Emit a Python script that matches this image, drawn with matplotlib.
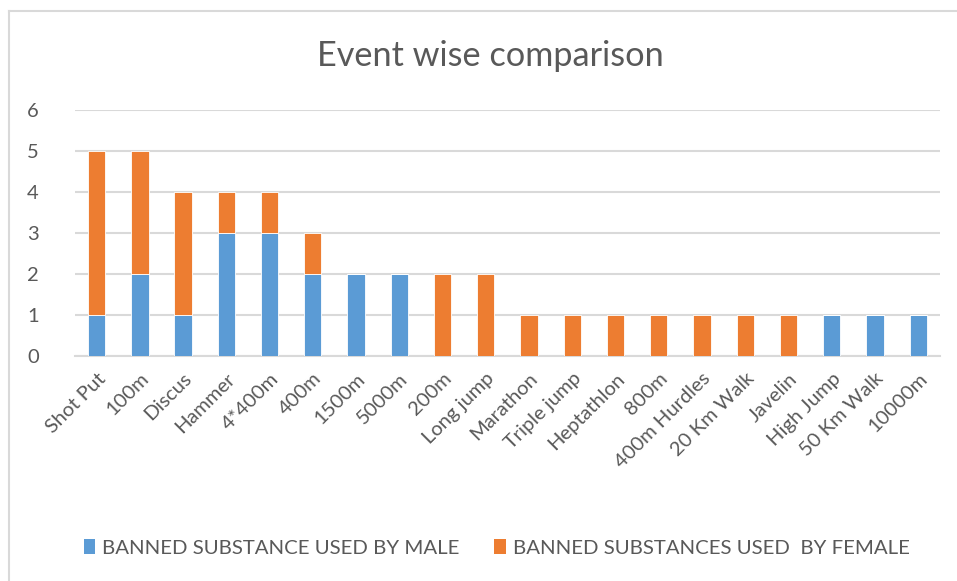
import matplotlib
matplotlib.use("Agg")
import matplotlib.pyplot as plt
from matplotlib.lines import Line2D
from matplotlib.patches import Patch
import numpy as np

events = ["Shot Put", "100m", "Discus", "Hammer", "4*400m", "400m", "1500m", "5000m",
          "200m", "Long jump", "Marathon", "Triple jump", "Heptathlon", "800m",
          "400m Hurdles", "20 Km Walk", "Javelin", "High Jump", "50 Km Walk", "10000m"]
male = [1, 2, 1, 3, 3, 2, 2, 2, 0, 0, 0, 0, 0, 0, 0, 0, 0, 1, 1, 1]
female = [4, 3, 3, 1, 1, 1, 0, 0, 2, 2, 1, 1, 1, 1, 1, 1, 1, 0, 0, 0]
series_names = ["BANNED SUBSTANCE USED BY MALE", "BANNED SUBSTANCES USED  BY FEMALE"]
yticks = [0, 1, 2, 3, 4, 5, 6]

BLUE = "#5B9BD5"
ORANGE = "#ED7D31"
GRID = "#D9D9D9"
TEXT = "#595959"
FONT = ["Lato", "DejaVu Sans"]

plt.rcParams["font.family"] = FONT

fig = plt.figure(figsize=(9.57, 5.81), dpi=100)
ax = fig.add_axes([0.0784, 0.3873, 0.9036, 0.4234])

x = np.arange(len(events))
w = 0.4
ax.bar(x, male, w, color=BLUE, edgecolor="white", linewidth=0.6, zorder=3)
ax.bar(x, female, w, bottom=male, color=ORANGE, edgecolor="white", linewidth=0.6, zorder=3)

ax.set_xlim(-0.5, len(events) - 0.5)
ax.set_ylim(0, 6)
ax.set_yticks(yticks)
ax.yaxis.grid(True, color=GRID, linewidth=1.5, zorder=0)
ax.set_axisbelow(True)
for s in ["top", "right", "left"]:
    ax.spines[s].set_visible(False)
ax.spines["bottom"].set_color(GRID)
ax.spines["bottom"].set_linewidth(1.5)
ax.tick_params(axis="both", length=0, colors=TEXT, labelsize=14.5)
ax.tick_params(axis="y", pad=26)
ax.set_xticks(x)
ax.set_xticklabels(events, rotation=45, ha="right", rotation_mode="anchor")
ax.tick_params(axis="x", pad=10)

fig.text(0.512, 0.903, "Event wise comparison", ha="center", va="center",
         fontsize=24.7, color=TEXT)

handles = [Patch(facecolor=BLUE), Patch(facecolor=ORANGE)]
fig.legend(handles, series_names, loc="center", bbox_to_anchor=(0.519, 0.057),
           ncol=2, frameon=False, fontsize=14.7, labelcolor=TEXT,
           handlelength=0.55, handleheight=0.7, handletextpad=0.35, columnspacing=1.7)

# chart frame (top and left edges)
fig.add_artist(Line2D([0.0094, 0.0094], [0.0, 0.981], color=GRID, linewidth=1.5))
fig.add_artist(Line2D([0.0094, 1.0], [0.981, 0.981], color=GRID, linewidth=1.5))

fig.savefig("out.png", dpi=100)
